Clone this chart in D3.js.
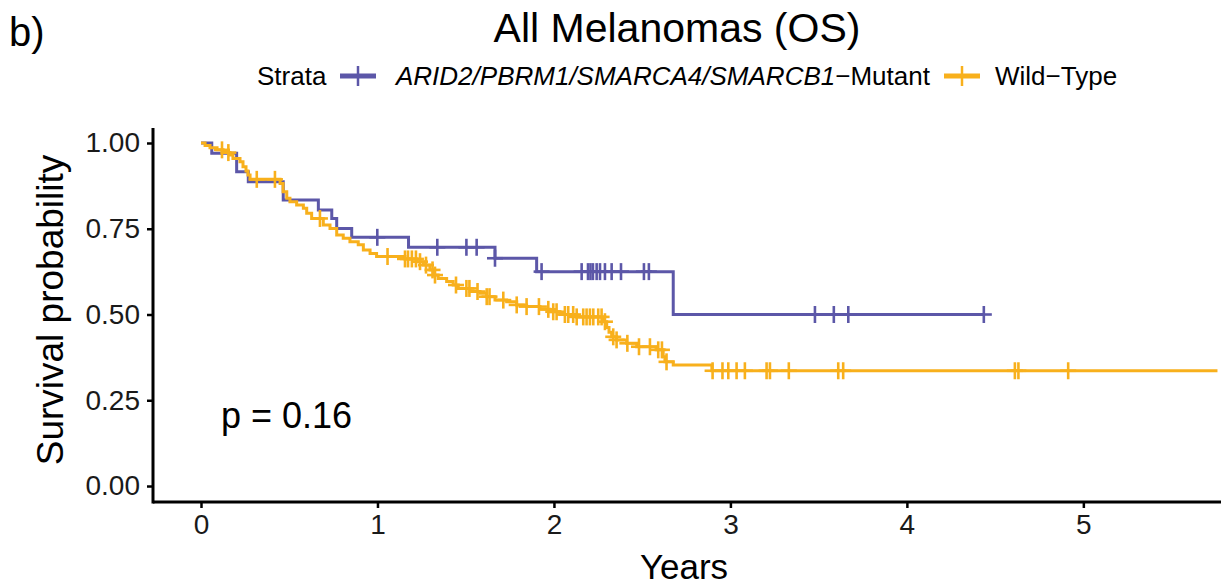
<!DOCTYPE html>
<html>
<head>
<meta charset="utf-8">
<script src="https://cdn.jsdelivr.net/npm/d3@7"></script>
<style>
  body { margin: 0; background: #fff; }
  svg { display: block; font-family: "Liberation Sans", Arial, Helvetica, sans-serif; }
</style>
</head>
<body>
<div id="chart"></div>
<script>
// Mutant group: event times (years) and survival after each step
const mutTimes = [0.061, 0.202, 0.268, 0.466, 0.665, 0.741, 0.769, 0.854, 1.176, 1.666, 1.902, 2.676];
const mutSurv  = [0.970, 0.916, 0.887, 0.834, 0.805, 0.780, 0.751, 0.725, 0.696, 0.664, 0.625, 0.500];
const mutCensor = [0.999, 1.339, 1.504, 1.562, 1.666, 1.930, 2.157, 2.193, 2.207, 2.221, 2.242, 2.261,
  2.289, 2.327, 2.380, 2.510, 2.538, 3.479, 3.586, 3.668, 4.436];
const mutEnd = 4.436;

// Wild-type group
const wtTimes = [0.023, 0.051, 0.091, 0.125, 0.164, 0.181, 0.221, 0.238, 0.255, 0.266, 0.278, 0.448,
  0.465, 0.486, 0.504, 0.542, 0.580, 0.599, 0.627, 0.693, 0.731, 0.769, 0.806, 0.844, 0.891, 0.920,
  0.958, 0.995, 1.156, 1.222, 1.260, 1.297, 1.316, 1.344, 1.392, 1.429, 1.458, 1.524, 1.581, 1.619,
  1.666, 1.732, 1.789, 1.845, 1.921, 1.977, 2.034, 2.129, 2.278, 2.299, 2.312, 2.327, 2.355, 2.412,
  2.469, 2.582, 2.619, 2.629, 2.676, 2.895];
const wtSurv = [0.993, 0.986, 0.980, 0.972, 0.965, 0.955, 0.945, 0.931, 0.918, 0.907, 0.894, 0.882,
  0.858, 0.839, 0.829, 0.819, 0.810, 0.795, 0.780, 0.761, 0.751, 0.732, 0.722, 0.712, 0.703, 0.688,
  0.678, 0.669, 0.662, 0.654, 0.644, 0.630, 0.615, 0.605, 0.596, 0.586, 0.576, 0.567, 0.562, 0.552,
  0.542, 0.537, 0.528, 0.523, 0.515, 0.508, 0.500, 0.493, 0.479, 0.462, 0.448, 0.435, 0.426, 0.416,
  0.406, 0.397, 0.377, 0.362, 0.353, 0.336];
const wtCensor = [0.119, 0.155, 0.316, 0.419, 0.674, 1.057, 1.156, 1.173, 1.195, 1.218, 1.241, 1.275,
  1.312, 1.326, 1.445, 1.504, 1.521, 1.567, 1.619, 1.635, 1.713, 1.789, 1.845, 1.915, 1.968, 1.996,
  2.015, 2.062, 2.081, 2.109, 2.129, 2.166, 2.185, 2.204, 2.223, 2.251, 2.270, 2.289, 2.336, 2.355,
  2.416, 2.482, 2.544, 2.591, 2.612, 2.638, 2.899, 2.955, 2.988, 3.035, 3.082, 3.205, 3.224, 3.331,
  3.611, 3.639, 4.612, 4.632, 4.914];
const wtEnd = 5.76;

const xTicks = [0, 1, 2, 3, 4, 5];
const yTicks = [0, 0.25, 0.5, 0.75, 1];

const purple = "#5c57a8";
const orange = "#f8b01c";

const width = 1226, height = 586;

const x = d3.scaleLinear().domain([-0.272, 5.78]).range([153, 1221]);
const y = d3.scaleLinear().domain([-0.0466, 1.0437]).range([502, 128]);

const svg = d3.select("#chart").append("svg")
  .attr("width", width)
  .attr("height", height);

// panel tag and title
svg.append("text").attr("x", 9).attr("y", 46)
  .attr("font-size", 40).text("b)");
svg.append("text").attr("x", 677).attr("y", 42)
  .attr("text-anchor", "middle").attr("font-size", 41)
  .text("All Melanomas (OS)");

// legend
const leg = svg.append("g").attr("font-size", 26);
leg.append("text").attr("x", 257).attr("y", 85).text("Strata");
function legendKey(cx, color) {
  leg.append("line").attr("x1", cx - 18).attr("x2", cx + 18).attr("y1", 76).attr("y2", 76)
    .attr("stroke", color).attr("stroke-width", 5);
  leg.append("line").attr("x1", cx).attr("x2", cx).attr("y1", 66).attr("y2", 86)
    .attr("stroke", color).attr("stroke-width", 2.5);
}
legendKey(358, purple);
const lab1 = leg.append("text").attr("x", 396).attr("y", 85);
lab1.append("tspan").attr("font-style", "italic").text("ARID2/PBRM1/SMARCA4/SMARCB1");
lab1.append("tspan").text("\u2212Mutant");
legendKey(962, orange);
leg.append("text").attr("x", 995).attr("y", 85).text("Wild\u2212Type");

// step curves
function steps(times, surv, end) {
  const pts = [[0, 1]];
  times.forEach((t, i) => pts.push([t, surv[i]]));
  pts.push([end, surv[surv.length - 1]]);
  return pts;
}
function survAt(times, surv, t) {
  const i = d3.bisectRight(times, t);
  return i === 0 ? 1 : surv[i - 1];
}

const line = d3.line()
  .x(d => x(d[0]))
  .y(d => y(d[1]))
  .curve(d3.curveStepAfter);

const groups = [
  {times: wtTimes, surv: wtSurv, censor: wtCensor, end: wtEnd, color: orange},
  {times: mutTimes, surv: mutSurv, censor: mutCensor, end: mutEnd, color: purple}
];

// purple first, orange drawn over it
[groups[1], groups[0]].forEach(g => {
  const gg = svg.append("g");
  gg.append("path")
    .attr("d", line(steps(g.times, g.surv, g.end)))
    .attr("fill", "none")
    .attr("stroke", g.color)
    .attr("stroke-width", 3);
  const marks = gg.selectAll("g.c")
    .data(g.censor)
    .join("g")
    .attr("transform", t => `translate(${x(t)},${y(survAt(g.times, g.surv, t))})`)
    .attr("stroke", g.color)
    .attr("stroke-width", 2.6);
  marks.append("line").attr("x1", -8).attr("x2", 8).attr("y1", 0).attr("y2", 0);
  marks.append("line").attr("x1", 0).attr("x2", 0).attr("y1", -8.5).attr("y2", 8.5);
});

// axes
const xAxis = svg.append("g")
  .attr("transform", `translate(0,${502})`)
  .call(d3.axisBottom(x).tickValues(xTicks).tickFormat(d3.format("d")).tickSize(6).tickPadding(6));
const yAxis = svg.append("g")
  .attr("transform", `translate(${153},0)`)
  .call(d3.axisLeft(y).tickValues(yTicks).tickFormat(d3.format(".2f")).tickSize(6).tickPadding(7));

[xAxis, yAxis].forEach(a => {
  a.select(".domain").attr("stroke", "#000").attr("stroke-width", 3);
  a.selectAll(".tick line").attr("stroke", "#000").attr("stroke-width", 2.5);
  a.selectAll(".tick text").attr("fill", "#1a1a1a").attr("font-size", 28)
    .attr("font-family", "'Liberation Sans', Arial, Helvetica, sans-serif");
});
xAxis.select(".domain").attr("d", `M${153},0H${1221}`);
yAxis.select(".domain").attr("d", `M0,${128}V${503.5}`);

// axis titles
svg.append("text")
  .attr("transform", `translate(63,310) rotate(-90)`)
  .attr("text-anchor", "middle").attr("font-size", 37)
  .text("Survival probability");
svg.append("text")
  .attr("x", 684).attr("y", 579)
  .attr("text-anchor", "middle").attr("font-size", 35)
  .text("Years");

// p-value
svg.append("text").attr("x", 221).attr("y", 428)
  .attr("font-size", 36).text("p = 0.16");
</script>
</body>
</html>
